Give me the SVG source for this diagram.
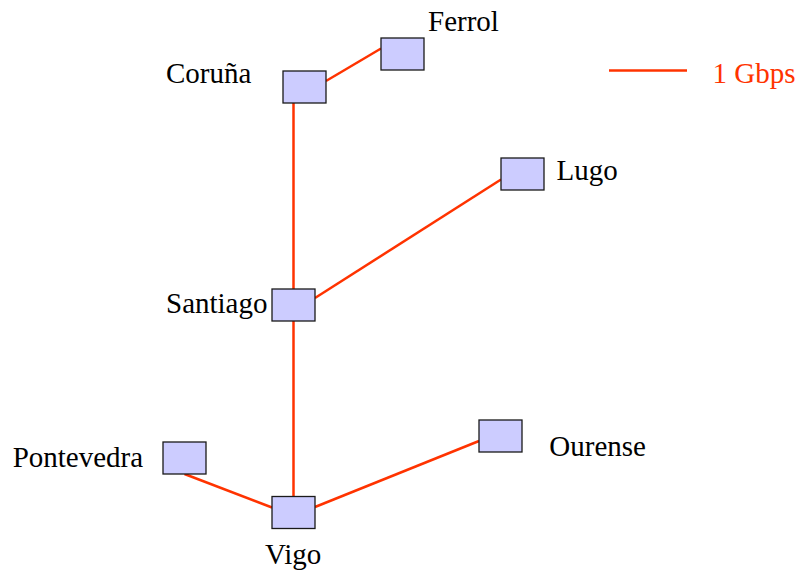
<svg xmlns="http://www.w3.org/2000/svg" width="796" height="571" viewBox="0 0 796 571">
<style>
.node{fill:#ccccff;stroke:#1a1a1a;stroke-width:1.3}
.link{stroke:#ff3300;stroke-width:2.5;fill:none}
.lbl{font-family:"Liberation Serif","Times New Roman",serif;font-size:29px;fill:#000}
.leg{font-family:"Liberation Serif","Times New Roman",serif;font-size:29px;fill:#ff3300}
</style>
<rect width="796" height="571" fill="#fff"/>
<g id="connectors">
<line class="link" x1="326" y1="81" x2="381" y2="48.5"/>
<line class="link" x1="293.5" y1="103" x2="293.5" y2="289"/>
<line class="link" x1="293.5" y1="321" x2="293.5" y2="496.5"/>
<line class="link" x1="315" y1="298" x2="501" y2="179.5"/>
<line class="link" x1="184.5" y1="474" x2="272" y2="507.5"/>
<line class="link" x1="315" y1="507" x2="479" y2="441"/>
</g>
<g id="legend">
<line class="link" x1="609" y1="70.5" x2="687" y2="70.5"/>
<text class="leg" x="712.5" y="83.3">1 Gbps</text>
</g>
<g id="coruna"><rect class="node" x="283" y="71" width="43" height="32"/><text class="lbl" x="166" y="83.3">Coruña</text></g>
<g id="ferrol"><rect class="node" x="381" y="38" width="43" height="32"/><text class="lbl" x="428" y="30.5">Ferrol</text></g>
<g id="lugo"><rect class="node" x="501" y="158" width="43" height="32"/><text class="lbl" x="556.5" y="180">Lugo</text></g>
<g id="santiago"><rect class="node" x="272" y="289" width="43" height="32"/><text class="lbl" x="166" y="313.3">Santiago</text></g>
<g id="pontevedra"><rect class="node" x="163" y="442" width="43" height="32"/><text class="lbl" x="12.7" y="466.7">Pontevedra</text></g>
<g id="ourense"><rect class="node" x="479" y="420" width="43" height="32"/><text class="lbl" x="549.3" y="455.7">Ourense</text></g>
<g id="vigo"><rect class="node" x="272" y="496.5" width="43" height="32"/><text class="lbl" x="265" y="564">Vigo</text></g>
</svg>
